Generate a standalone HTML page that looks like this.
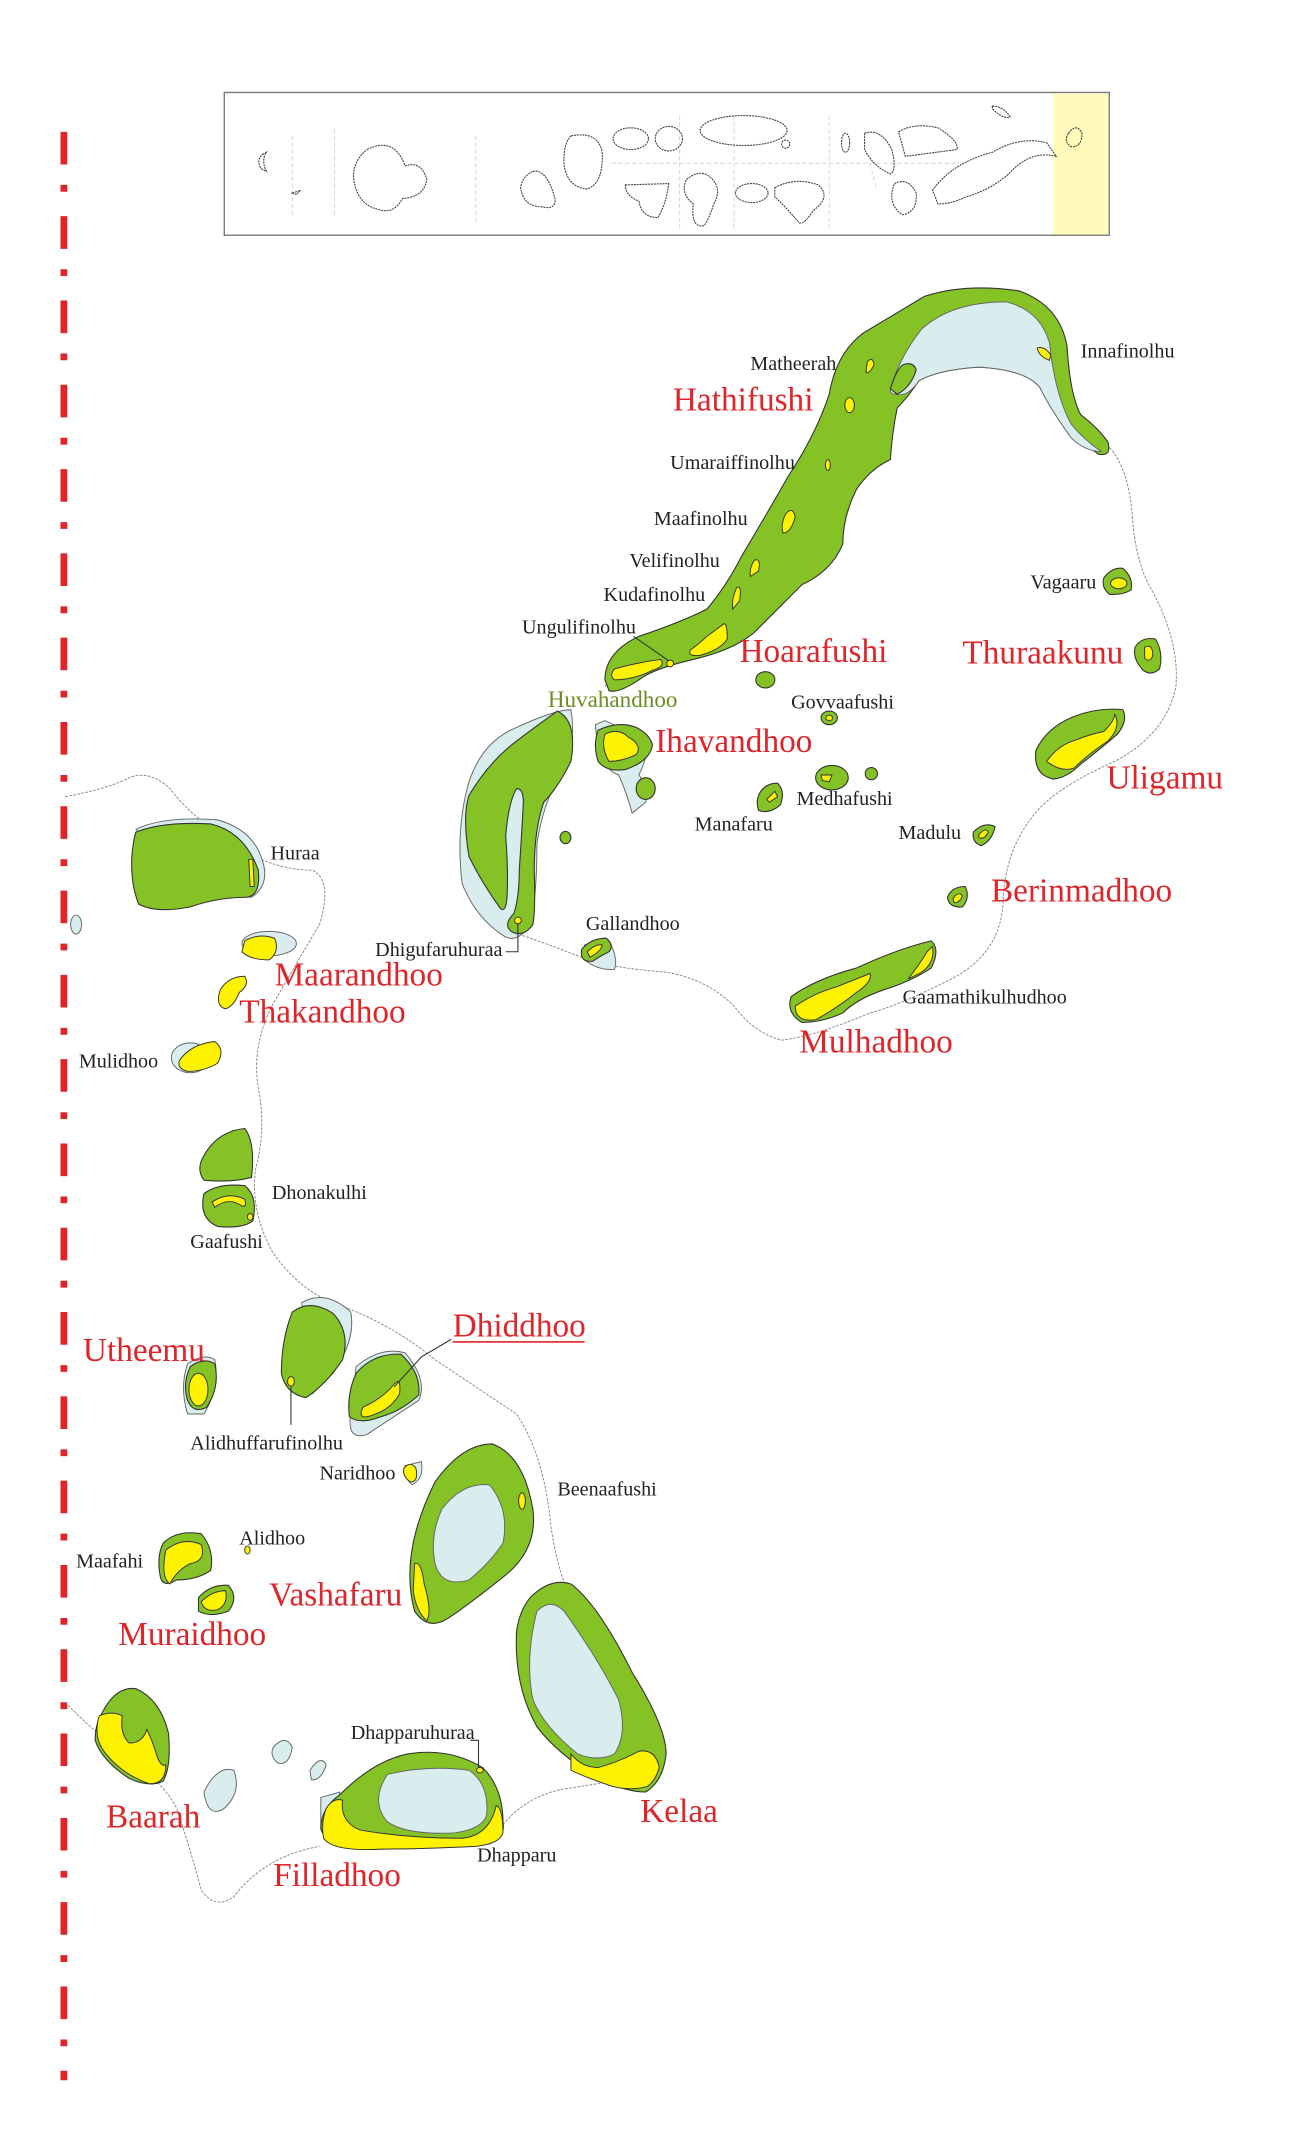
<!DOCTYPE html>
<html><head><meta charset="utf-8"><style>
html,body{margin:0;padding:0;background:#fff;}
svg{display:block;}
text{font-family:"Liberation Serif",serif;}
.b{font-size:14.8px;fill:#222;}
.r{font-size:24.5px;fill:#e0252a;}
.g{fill:#84c225;stroke:#333;stroke-width:.8;}
.y{fill:#fff200;stroke:#333;stroke-width:.7;}
.l{fill:#d9ecee;stroke:#666;stroke-width:.7;}
.reef{fill:none;stroke:#888;stroke-width:.7;stroke-dasharray:2 1;}
.ins{fill:none;stroke:#444;stroke-width:.8;stroke-dasharray:1.5 .6;}
.ld{fill:none;stroke:#333;stroke-width:.8;}
</style></head><body>
<svg width="1305" height="2136" viewBox="0 0 960 1571" preserveAspectRatio="none" xmlns="http://www.w3.org/2000/svg">
<line x1="47" y1="97" x2="47" y2="1530" stroke="#e0252a" stroke-width="5" stroke-dasharray="24 15 5 18"/>

<rect x="165" y="68" width="651" height="105" fill="#fff" stroke="#777" stroke-width="1"/>
<rect x="775" y="69" width="40.5" height="103.5" fill="#fffbbb"/>
<g stroke="#ccc" stroke-width=".6" stroke-dasharray="3 2" fill="none">
<line x1="215" y1="100" x2="215" y2="160"/><line x1="246" y1="95" x2="246" y2="160"/>
<line x1="350" y1="100" x2="350" y2="165"/><line x1="450" y1="120" x2="705" y2="120"/>
<line x1="640" y1="120" x2="645" y2="140"/><line x1="500" y1="85" x2="500" y2="170"/>
<line x1="540" y1="85" x2="540" y2="170"/><line x1="610" y1="85" x2="610" y2="170"/>
</g>
<g class="ins">
<path d="M194,113 Q188,117 192,124 L196,126 Q192,118 196,112Z"/>
<path d="M215,142 l6,-2 l-3,3z"/>
<path d="M270,110 Q290,100 298,122 Q310,118 314,132 Q312,145 296,146 Q290,158 278,154 Q262,150 260,130 Q260,118 270,110Z"/>
<path d="M392,126 Q402,124 408,145 Q410,155 398,152 Q385,152 383,138 Q384,130 392,126Z"/>
<path d="M420,100 Q440,96 443,112 Q444,135 432,139 Q418,138 415,122 Q414,106 420,100Z"/>
<ellipse cx="464" cy="102" rx="13" ry="8"/><ellipse cx="492" cy="102" rx="10" ry="9"/>
<ellipse cx="547" cy="96" rx="32" ry="11"/><ellipse cx="578" cy="106" rx="3" ry="3"/>
<path d="M460,136 L492,135 Q490,150 484,160 Q472,160 470,148 Q460,144 460,136Z"/>
<path d="M505,132 Q515,124 522,130 Q532,138 525,150 Q522,160 518,166 Q508,168 510,150 Q500,142 505,132Z"/>
<ellipse cx="553" cy="142" rx="12" ry="7"/>
<path d="M570,138 Q585,130 602,136 Q612,145 598,155 Q592,165 588,164 Q576,150 570,145Z"/>
<ellipse cx="622" cy="105" rx="3" ry="7"/>
<path d="M636,98 Q648,94 656,110 Q660,125 655,128 Q642,122 636,110Z"/>
<path d="M661,97 Q672,90 690,94 Q706,104 704,110 L666,115Z"/>
<path d="M658,135 Q668,130 674,142 Q675,156 664,158 Q652,150 658,135Z"/>
<path d="M686,140 Q700,120 730,112 Q750,100 770,105 L777,115 Q758,110 742,128 Q728,140 710,145 Q700,150 690,150Z"/>
<path d="M730,78 Q738,78 743,86 Q738,88 730,80Z"/>
<path d="M786,98 Q792,90 796,98 Q796,108 788,108 Q782,104 786,98Z"/>
</g>

<path class="reef" d="M48,586 Q80,580 95,572 Q110,566 125,580 Q140,600 170,620 Q200,640 230,640 Q245,648 235,680 Q220,705 200,740 Q185,770 190,800 Q196,830 188,860 Q184,890 200,920 Q220,950 250,960 Q290,975 320,1000 Q350,1020 380,1040 Q400,1070 405,1120 Q410,1160 425,1185"/>
<path class="reef" d="M48,1252 Q65,1270 85,1285 Q120,1310 130,1330 Q140,1360 148,1390 Q158,1405 172,1395 Q195,1365 235,1358"/>
<path class="reef" d="M360,1357 Q380,1320 420,1315 Q450,1310 470,1308"/>
<path class="reef" d="M445,505 Q470,470 520,455 Q560,430 580,380 Q600,340 610,300"/>
<path class="reef" d="M812,325 Q830,340 833,380 Q835,410 845,430 Q868,470 865,505 Q858,540 820,560 Q775,580 760,600 Q740,625 738,660 Q738,700 700,720 Q660,740 640,745 Q600,762 575,765 Q555,760 540,740 Q520,720 490,715 Q450,712 430,705 Q400,693 378,686"/>

<!-- main atoll arm -->
<path class="g" d="M445,500 Q445,480 470,468 Q500,458 520,448 Q535,430 545,410 Q560,385 580,350 Q600,320 610,290 Q615,260 635,245 Q660,230 680,218 Q710,208 750,214 Q780,225 785,255 Q787,290 795,305 Q808,315 815,325 Q818,336 808,334 Q795,325 786,315 Q772,298 765,285 Q755,272 720,270 Q690,272 676,280 Q668,292 660,300 Q656,320 655,338 Q640,345 630,360 Q620,380 620,400 Q612,420 590,430 Q570,450 555,465 Q540,478 510,485 Q480,492 470,500 Q455,510 448,508 Z"/>
<path class="l" d="M655,286 Q662,262 678,242 Q700,222 740,222 Q765,228 772,252 Q776,290 788,312 Q798,324 810,332 Q798,332 788,322 Q772,300 765,285 Q755,272 720,270 Q690,272 676,280 Q668,292 660,290 Q654,290 655,286Z"/>
<path class="g" d="M655,286 Q660,270 665,268 Q672,266 674,272 Q670,285 660,290Z"/>
<g class="y">
<path d="M638,266 Q642,262 643,268 Q640,275 637,274Z"/>
<ellipse cx="625" cy="298" rx="3.5" ry="5.5"/>
<ellipse cx="609" cy="342" rx="1.8" ry="4"/>
<path d="M578,378 Q583,372 585,380 Q582,392 576,392 Q574,386 578,378Z"/>
<path d="M555,412 Q560,410 558,420 L552,424 Q551,418 555,412Z"/>
<path d="M542,432 Q546,430 544,442 L539,448 Q538,440 542,432Z"/>
<path d="M531,460 Q535,455 535,470 Q530,478 515,482 Q505,483 508,478 Q516,472 520,468 Z"/>
<path d="M452,492 Q470,487 486,485 Q490,490 480,493 Q466,500 452,500 Q448,497 452,492Z"/>
<ellipse cx="493" cy="488" rx="2.5" ry="2.5"/>
<path d="M763,256 Q768,254 773,261 L772,265 Q764,262 763,256Z"/>
</g>

<path class="l" d="M345,575 Q355,545 380,535 Q408,522 420,522 Q425,550 410,575 Q400,590 395,620 Q395,660 390,680 Q380,695 370,688 Q350,675 340,650 Q335,610 345,575Z"/>
<path class="g" d="M410,523 Q425,530 420,560 Q410,580 400,590 Q393,610 393,640 Q394,670 392,680 Q385,690 376,685 Q370,680 378,672 Q382,660 382,640 Q384,610 385,590 Q385,580 380,580 Q374,590 372,615 Q374,640 373,660 Q372,672 368,668 Q355,650 345,630 Q340,600 345,585 Q360,560 380,545 Q400,530 410,523Z"/>
<ellipse class="y" cx="381" cy="677" rx="2.5" ry="2.5"/>
<path class="ld" d="M381,679 L381,700 L372,700"/>

<path class="l" d="M438,533 L445,530 L478,545 Q475,560 470,570 Q478,580 475,590 L465,598 Q460,580 455,570 Q440,565 438,533Z"/>
<path class="g" d="M440,537 Q455,530 468,535 Q478,540 480,548 Q478,560 460,566 Q446,568 440,560 Q436,548 440,537Z"/>
<path class="y" d="M445,540 Q455,535 462,542 Q473,548 468,555 Q458,560 448,560 Q442,550 445,540Z"/>
<ellipse class="g" cx="475" cy="580" rx="7" ry="8"/>
<ellipse class="g" cx="416" cy="616" rx="4" ry="4.5"/>
<ellipse class="g" cx="563" cy="500" rx="7" ry="6"/>
<ellipse class="g" cx="610" cy="528" rx="6" ry="5"/><ellipse class="y" cx="610" cy="528" rx="2.5" ry="2"/>
<ellipse class="g" cx="612" cy="572" rx="12" ry="9"/><path class="y" d="M604,570 L612,570 L610,575 L605,574Z"/>
<ellipse class="g" cx="641" cy="569" rx="4.5" ry="4.5"/>
<path class="g" d="M558,585 Q562,576 572,576 Q578,582 574,592 Q566,599 558,596 Q556,590 558,585Z"/>
<path class="y" d="M564,588 L570,582 L572,586 L566,590Z"/>
<path class="l" d="M430,695 L448,692 Q455,705 452,713 Q440,714 430,706Z"/>
<path class="g" d="M428,698 Q435,690 446,690 Q452,695 448,700 Q440,704 436,707 Q426,708 428,698Z"/>
<path class="y" d="M432,700 Q438,694 443,695 Q442,700 434,704Z"/>

<path class="g" d="M812,425 Q818,417 826,418 Q834,425 832,434 Q825,438 816,437 Q810,432 812,425Z"/><ellipse class="y" cx="823" cy="429" rx="6" ry="4"/>
<path class="g" d="M835,476 Q840,468 850,470 Q856,480 853,492 Q846,498 840,492 Q833,484 835,476Z"/><path class="y" d="M842,476 Q848,473 848,482 Q846,488 842,484Z"/>
<path class="g" d="M762,552 Q770,535 790,527 Q808,520 826,522 Q830,530 822,540 Q808,552 795,562 Q785,572 775,573 Q760,570 762,552Z"/>
<path class="y" d="M770,560 Q778,548 792,544 Q802,540 812,538 Q820,530 820,525 Q825,535 815,545 Q800,555 790,565 Q780,568 770,560Z"/>
<path class="g" d="M716,612 Q724,604 732,608 Q730,618 722,622 Q715,620 716,612Z"/><path class="y" d="M720,614 Q725,608 727,612 Q724,618 720,616Z"/>
<path class="g" d="M697,660 Q700,652 710,652 Q714,660 708,667 Q698,668 697,660Z"/><path class="y" d="M701,661 Q705,655 708,659 Q706,664 702,664Z"/>
<path class="g" d="M582,733 Q600,720 630,712 Q660,698 685,692 Q692,698 685,712 Q670,722 650,728 Q630,735 620,745 Q605,752 590,752 Q578,745 582,733Z"/>
<path class="y" d="M585,740 Q600,730 615,726 Q630,720 640,716 Q642,722 630,730 Q615,742 600,750 Q585,752 585,740Z"/>
<path class="y" d="M686,696 Q688,708 678,715 L668,720 Q676,710 682,700Z"/>

<path class="l" d="M100,610 Q120,600 160,603 Q185,610 192,630 Q200,650 185,660 L150,655Z"/>
<path class="g" d="M100,612 Q120,604 155,606 Q180,612 190,640 Q192,660 180,660 Q160,660 140,667 Q115,672 102,665 Q96,650 97,630 Q98,618 100,612Z"/>
<path class="y" d="M183,632 L186,632 L187,652 L184,652Z"/>
<ellipse class="l" cx="56" cy="680" rx="4" ry="7"/>
<ellipse class="l" cx="198" cy="694" rx="20" ry="9"/>
<path class="y" d="M180,692 Q190,686 202,690 Q206,700 198,706 Q184,706 178,700Z" stroke-width="1.2"/>
<path class="y" d="M162,728 Q168,718 180,718 Q184,724 176,730 Q172,740 166,742 Q158,740 162,728Z" stroke-width="1.2"/>
<ellipse class="l" cx="140" cy="778" rx="14" ry="11"/>
<path class="y" d="M132,780 Q140,768 158,766 Q166,772 160,782 Q150,788 138,788 Q130,786 132,780Z" stroke-width="1.2"/>
<path class="g" d="M150,850 Q160,832 180,830 Q188,840 185,866 Q170,870 150,868 Q144,860 150,850Z"/>
<path class="g" d="M150,878 Q160,870 180,872 Q190,880 186,898 Q178,904 160,902 Q146,896 150,878Z"/>
<path class="y" d="M156,884 Q168,876 180,882 Q182,888 178,887 Q168,880 158,888Z"/>
<ellipse class="y" cx="184" cy="895" rx="2" ry="2.5"/>

<path class="l" d="M138,1003 Q150,995 158,1000 Q162,1020 150,1040 L138,1040 Q132,1020 138,1003Z"/>
<path class="g" d="M140,1005 Q150,998 158,1003 Q162,1020 152,1035 Q142,1040 138,1030 Q134,1018 140,1005Z"/>
<ellipse class="y" cx="146" cy="1022" rx="7" ry="12"/>
<path class="l" d="M222,958 Q240,948 258,965 Q262,985 245,1010 L230,1025Z"/>
<path class="g" d="M215,965 Q228,955 245,966 Q258,980 252,1000 Q240,1018 225,1028 Q210,1025 207,1010 Q207,985 215,965Z"/>
<ellipse class="y" cx="214" cy="1016" rx="2.5" ry="3.5"/>
<path class="ld" d="M214,1020 L214,1048"/>
<path class="l" d="M262,1005 Q280,990 298,995 Q315,1015 308,1030 L270,1055 Q255,1060 258,1040Z"/>
<path class="g" d="M262,1010 Q275,995 295,996 Q310,1010 308,1026 Q295,1038 280,1042 Q265,1048 257,1042 Q255,1025 262,1010Z"/>
<path class="y" d="M267,1035 Q282,1028 290,1018 Q295,1012 294,1025 Q288,1036 276,1040 Q262,1046 267,1035Z"/>
<path class="ld" d="M290,1020 L310,998 L332,985"/>
<line x1="333" y1="987" x2="430" y2="987" stroke="#e0252a" stroke-width="1.2"/>
<path class="l" d="M298,1078 L310,1075 Q312,1088 303,1092 Q296,1085 298,1078Z"/>
<path class="y" d="M297,1080 Q302,1074 306,1080 Q308,1090 302,1090 Q296,1086 297,1080Z"/>
<path class="g" d="M320,1090 Q340,1062 362,1062 Q385,1070 392,1110 Q396,1140 370,1160 Q345,1180 330,1190 Q315,1200 305,1185 Q298,1160 305,1130 Q310,1110 320,1090Z"/>
<path class="l" d="M325,1110 Q340,1090 360,1092 Q375,1110 370,1135 Q360,1150 345,1162 Q325,1168 320,1150 Q316,1130 325,1110Z"/>
<path class="y" d="M305,1150 Q310,1148 312,1165 Q318,1185 314,1192 Q306,1185 304,1170Z"/>
<ellipse class="y" cx="384" cy="1104" rx="2.5" ry="6"/>
<path class="g" d="M390,1175 Q405,1160 420,1165 Q440,1180 465,1230 Q490,1270 490,1290 Q488,1310 475,1318 Q460,1318 440,1308 Q410,1290 395,1270 Q378,1240 380,1200 Q382,1185 390,1175Z"/>
<path class="l" d="M395,1185 Q405,1175 415,1185 Q440,1220 455,1250 Q462,1275 452,1290 Q440,1296 425,1290 Q400,1270 392,1250 Q386,1220 395,1185Z"/>
<path class="y" d="M420,1290 Q428,1300 440,1300 Q455,1296 470,1288 Q482,1286 485,1300 Q482,1310 476,1314 Q460,1318 445,1312 Q428,1306 420,1302Z"/>
<path class="l" d="M236,1322 L250,1318 L248,1340 L236,1345Z"/>
<path class="g" d="M250,1320 Q275,1295 300,1290 Q330,1285 355,1300 Q370,1315 370,1340 Q372,1352 360,1355 Q320,1360 280,1360 Q240,1360 236,1345 Q236,1330 250,1320Z"/>
<path class="l" d="M285,1305 Q315,1298 345,1302 Q360,1312 358,1335 Q355,1345 335,1348 Q300,1350 285,1340 Q272,1325 285,1305Z"/>
<path class="y" d="M240,1330 Q245,1322 252,1324 Q250,1340 265,1346 Q300,1352 340,1352 Q360,1350 365,1328 Q370,1330 370,1348 Q368,1356 350,1358 Q310,1360 280,1360 Q245,1362 238,1352 Q236,1340 240,1330Z"/>
<ellipse class="y" cx="353" cy="1302" rx="2.5" ry="2"/>
<path class="ld" d="M346,1280 L352,1280 L352,1300"/>
<path class="g" d="M75,1260 Q85,1240 100,1242 Q118,1250 124,1275 Q126,1300 120,1310 Q110,1315 95,1308 Q75,1295 70,1280 Q70,1268 75,1260Z"/>
<path class="y" d="M73,1262 Q82,1258 90,1262 Q88,1275 95,1282 Q105,1282 108,1272 Q112,1280 115,1290 Q118,1300 122,1298 Q122,1312 110,1312 Q90,1305 78,1290 Q68,1278 73,1262Z"/>
<path class="l" d="M201,1285 Q210,1275 215,1285 Q213,1298 205,1297 Q198,1292 201,1285Z"/>
<path class="l" d="M228,1302 Q236,1290 240,1298 Q236,1310 229,1309Z"/>
<path class="l" d="M150,1318 Q160,1298 172,1302 Q178,1318 165,1330 Q153,1338 150,1318Z"/>
<path class="g" d="M120,1135 Q130,1125 148,1128 Q158,1140 155,1155 Q145,1162 130,1162 Q120,1168 118,1160 Q115,1145 120,1135Z"/>
<path class="y" d="M122,1140 Q135,1130 148,1136 Q152,1148 140,1150 Q130,1155 125,1165 Q118,1160 122,1140Z"/>
<path class="g" d="M146,1175 Q155,1165 168,1166 Q176,1175 168,1185 Q155,1190 146,1185Z"/>
<path class="y" d="M148,1178 Q156,1170 166,1170 Q168,1180 160,1184 Q150,1186 148,1178Z"/>
<ellipse class="y" cx="182" cy="1140" rx="2" ry="3"/>

<path class="ld" d="M466,468 L492,486" stroke-width=".6"/>

<text class="b" x="552" y="272">Matheerah</text>
<text class="r" x="495" y="302">Hathifushi</text>
<text class="b" x="795" y="263">Innafinolhu</text>
<text class="b" x="493" y="345">Umaraiffinolhu</text>
<text class="b" x="481" y="386">Maafinolhu</text>
<text class="b" x="463" y="417">Velifinolhu</text>
<text class="b" x="444" y="442">Kudafinolhu</text>
<text class="b" x="384" y="466">Ungulifinolhu</text>
<text class="r" x="544" y="487">Hoarafushi</text>
<text class="b" x="758" y="433">Vagaaru</text>
<text class="r" x="708" y="488">Thuraakunu</text>
<text x="403" y="520" style="font-size:17px;fill:#6b8e23">Huvahandhoo</text>
<text class="b" x="582" y="521">Govvaafushi</text>
<text class="r" x="482" y="553">Ihavandhoo</text>
<text class="r" x="814" y="580">Uligamu</text>
<text class="b" x="511" y="611">Manafaru</text>
<text class="b" x="586" y="592">Medhafushi</text>
<text class="b" x="661" y="617">Madulu</text>
<text class="b" x="199" y="632">Huraa</text>
<text class="r" x="729" y="663">Berinmadhoo</text>
<text class="b" x="431" y="684">Gallandhoo</text>
<text class="b" x="276" y="703">Dhigufaruhuraa</text>
<text class="r" x="202" y="725">Maarandhoo</text>
<text class="r" x="176" y="752">Thakandhoo</text>
<text class="b" x="664" y="738">Gaamathikulhudhoo</text>
<text class="b" x="58" y="785">Mulidhoo</text>
<text class="r" x="588" y="774">Mulhadhoo</text>
<text class="b" x="200" y="882">Dhonakulhi</text>
<text class="b" x="140" y="918">Gaafushi</text>
<text class="r" x="333" y="983">Dhiddhoo</text>
<text class="r" x="61" y="1001">Utheemu</text>
<text class="b" x="140" y="1066">Alidhuffarufinolhu</text>
<text class="b" x="235" y="1088">Naridhoo</text>
<text class="b" x="410" y="1100">Beenaafushi</text>
<text class="b" x="176" y="1136">Alidhoo</text>
<text class="b" x="56" y="1153">Maafahi</text>
<text class="r" x="198" y="1181">Vashafaru</text>
<text class="r" x="87" y="1210">Muraidhoo</text>
<text class="b" x="258" y="1279">Dhapparuhuraa</text>
<text class="r" x="78" y="1344">Baarah</text>
<text class="r" x="471" y="1340">Kelaa</text>
<text class="b" x="351" y="1369">Dhapparu</text>
<text class="r" x="201" y="1387">Filladhoo</text>
</svg>
</body></html>
